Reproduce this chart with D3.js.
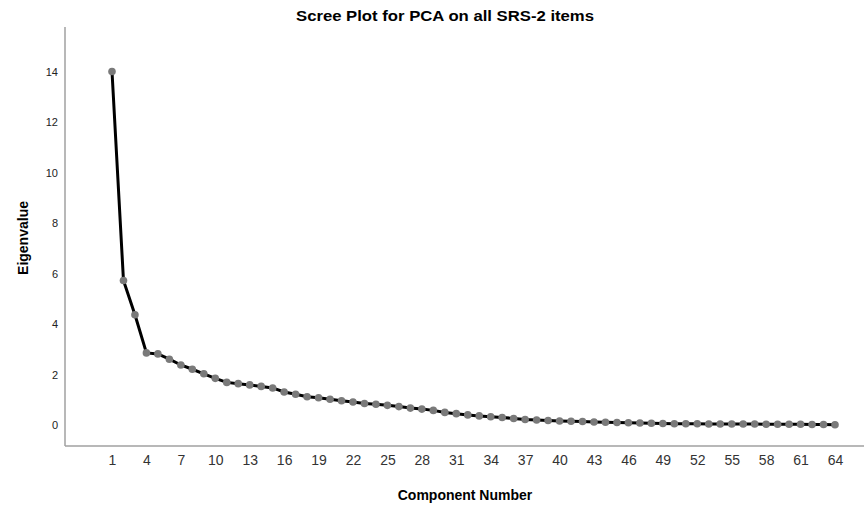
<!DOCTYPE html>
<html>
<head>
<meta charset="utf-8">
<script src="https://cdn.jsdelivr.net/npm/d3@7"></script>
<style>
  body { margin: 0; background: #fff; }
  svg { display: block; font-family: "Liberation Sans", Arial, sans-serif; }
</style>
</head>
<body>
<svg id="canvas" width="864" height="508"></svg>
<script>
// data
let components = d3.range(1, 65)
let eigenvalues = [
  14.02, 5.73, 4.37, 2.86, 2.82, 2.61, 2.38, 2.21, 2.03, 1.85,
  1.69, 1.64, 1.59, 1.53, 1.47, 1.31, 1.22, 1.12, 1.08, 1.02,
  0.96, 0.91, 0.85, 0.82, 0.78, 0.73, 0.67, 0.63, 0.58, 0.50,
  0.45, 0.40, 0.36, 0.33, 0.30, 0.26, 0.22, 0.20, 0.18, 0.16,
  0.15, 0.14, 0.12, 0.11, 0.10, 0.09, 0.08, 0.07, 0.06, 0.05,
  0.05, 0.05, 0.04, 0.04, 0.04, 0.04, 0.04, 0.03, 0.03, 0.03,
  0.03, 0.02, 0.02, 0.01
]
let xTicks = d3.range(1, 65, 3)
let yTicks = [0, 2, 4, 6, 8, 10, 12, 14]

let canvas = d3.select('#canvas')

let x = d3.scaleLinear().domain([1, 64]).range([112, 835])
let y = d3.scaleLinear().domain([0, 14]).range([425, 72])

let points = components.map((c, i) => ({c: c, v: eigenvalues[i]}))

// axis lines
canvas.append('line')
    .attr('x1', 65).attr('x2', 65).attr('y1', 27).attr('y2', 446)
    .attr('stroke', '#a0a0a0').attr('stroke-width', 1.5)
canvas.append('line')
    .attr('x1', 65).attr('x2', 864).attr('y1', 446).attr('y2', 446)
    .attr('stroke', '#a0a0a0').attr('stroke-width', 1.5)

// y axis labels (no tick marks)
let yAxis = d3.axisLeft(y).tickValues(yTicks).tickSize(0).tickPadding(0)
let yg = canvas.append('g').attr('transform', 'translate(58,0)').call(yAxis)
yg.select('.domain').remove()
yg.selectAll('text').attr('font-size', 11).attr('fill', '#222')
    .attr('font-family', '"Liberation Sans", Arial, sans-serif')

// x axis labels
let xAxis = d3.axisBottom(x).tickValues(xTicks).tickSize(0).tickPadding(0)
let xg = canvas.append('g').attr('transform', 'translate(0,455)').call(xAxis)
xg.select('.domain').remove()
xg.selectAll('text').attr('font-size', 14).attr('fill', '#333')
    .attr('font-family', '"Liberation Sans", Arial, sans-serif')

// the line
let line = d3.line().x(d => x(d.c)).y(d => y(d.v))
canvas.append('path')
    .datum(points)
    .attr('d', line)
    .attr('fill', 'none')
    .attr('stroke', '#000')
    .attr('stroke-width', 3)

canvas.selectAll('circle')
    .data(points)
    .enter()
    .append('circle')
    .attr('cx', d => x(d.c))
    .attr('cy', d => y(d.v))
    .attr('r', 3.8)
    .attr('fill', '#7a7a7a')

// titles
canvas.append('text')
    .attr('x', 445).attr('y', 21)
    .attr('text-anchor', 'middle')
    .attr('font-size', 14).attr('font-weight', 'bold')
    .attr('textLength', 298).attr('lengthAdjust', 'spacingAndGlyphs')
    .text('Scree Plot for PCA on all SRS-2 items')

canvas.append('text')
    .attr('x', 465).attr('y', 500)
    .attr('text-anchor', 'middle')
    .attr('font-size', 14).attr('font-weight', 'bold')
    .text('Component Number')

canvas.append('text')
    .attr('transform', 'translate(28,238) rotate(-90)')
    .attr('text-anchor', 'middle')
    .attr('font-size', 14).attr('font-weight', 'bold')
    .text('Eigenvalue')
</script>
</body>
</html>
